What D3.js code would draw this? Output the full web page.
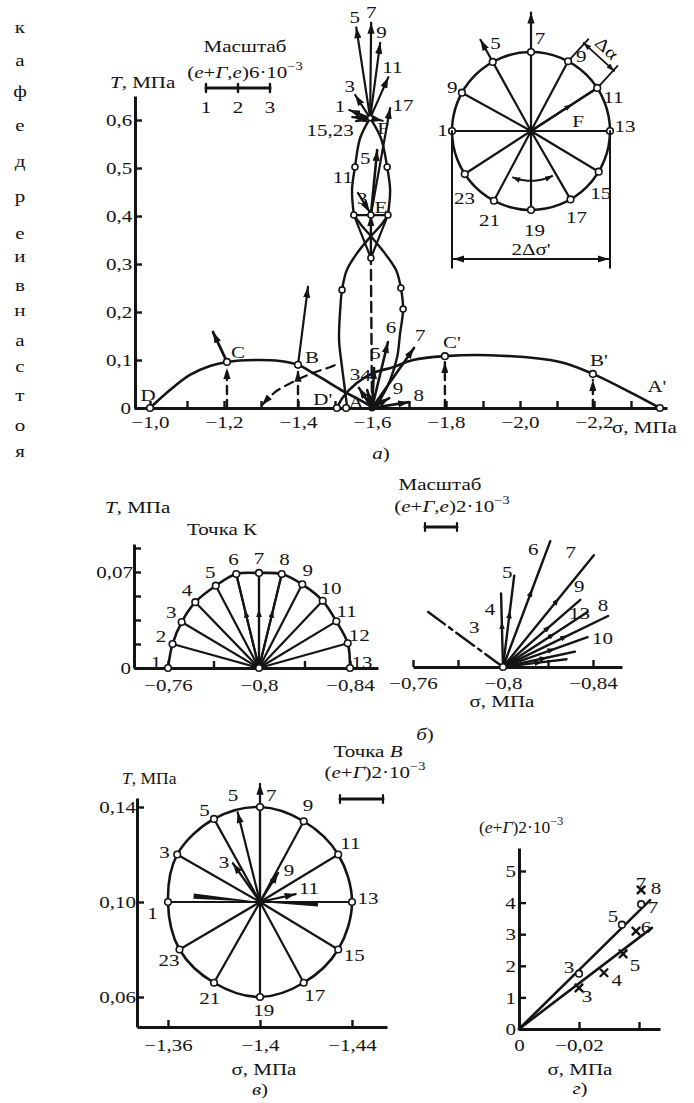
<!DOCTYPE html>
<html lang="ru">
<head>
<meta charset="utf-8">
<script src="https://cdn.jsdelivr.net/npm/d3@7"></script>
<style>
  body { margin: 0; background: #fff; }
  svg text { font-family: "Liberation Serif", "Times New Roman", serif; font-size: 17.5px; fill: #141414;
             transform-box: fill-box; transform-origin: center; transform: scaleX(1.2); }
  svg text[text-anchor="start"] { transform-origin: left center; }
  svg text[text-anchor="end"] { transform-origin: right center; }
  svg text.narrow { transform: scaleX(1.0); }
</style>
</head>
<body>
<svg id="fig" width="694" height="1103"></svg>
<script>
// ---------------- data ----------------
const sideText = ["к","а","ф","е","д","р","е","и","в","н","а","с","т","о","я"];

// panel а) : sigma / tau plane
const aSigTicks = [-1.0,-1.1,-1.2,-1.3,-1.4,-1.5,-1.6,-1.7,-1.8,-1.9,-2.0,-2.1,-2.2,-2.3];
const aSigLabels = [-1.0,-1.2,-1.4,-1.6,-1.8,-2.0,-2.2];
const aTauTicks = [0,0.1,0.2,0.3,0.4,0.5,0.6];
const curveDCB = [[-1.0,0],[-1.054,0.0375],[-1.108,0.069],[-1.162,0.0875],[-1.208,0.096],[-1.284,0.1],[-1.351,0.098],[-1.40,0.09],[-1.44,0.073],[-1.486,0.052],[-1.527,0.033],[-1.562,0.019],[-1.60,0.002]];
const curveABCD = [[-2.378,0],[-2.297,0.033],[-2.197,0.071],[-2.108,0.096],[-1.919,0.11],[-1.797,0.108],[-1.711,0.1],[-1.657,0.085],[-1.603,0.073],[-1.559,0.052],[-1.522,0.023],[-1.505,0]];
const curveDashed = [[-1.303,0.006],[-1.338,0.033],[-1.386,0.054],[-1.44,0.073],[-1.486,0.085],[-1.514,0.094]];
const lensUpperL = [[-1.595,0.604],[-1.568,0.5625],[-1.554,0.502],[-1.546,0.454],[-1.551,0.402]];
const lensUpperR = [[-1.595,0.604],[-1.624,0.5625],[-1.641,0.502],[-1.649,0.454],[-1.643,0.402]];
const lensCrossA = [[-1.551,0.402],[-1.573,0.379],[-1.597,0.358],[-1.632,0.325],[-1.665,0.2875],[-1.678,0.25],[-1.684,0.206],[-1.676,0.156],[-1.668,0.106],[-1.649,0.058],[-1.622,0.017],[-1.605,0]];
const lensCrossB = [[-1.643,0.402],[-1.622,0.379],[-1.597,0.358],[-1.562,0.325],[-1.532,0.2875],[-1.519,0.246],[-1.514,0.204],[-1.511,0.142],[-1.519,0.085],[-1.527,0.0375],[-1.532,0.006]];
const lensVee = [[-1.551,0.402],[-1.597,0.3125],[-1.643,0.402]];
const lensLevel = [[-1.551,0.402],[-1.643,0.402]];
const lensPoints = [[-1.554,0.502],[-1.641,0.502],[-1.551,0.402],[-1.597,0.402],[-1.643,0.402],[-1.597,0.3125],[-1.519,0.246],[-1.678,0.25],[-1.684,0.206]];
const aPtName = ["D","C","B","D'","A","C'","B'","A'"];
const aPtSig  = [-1.0,-1.208,-1.40,-1.505,-1.53,-1.797,-2.197,-2.378];
const aPtTau  = [0,0.096,0.09,0,0,0.108,0.071,0];
const pointF = [-1.595,0.604], pointE = [-1.597,0.402], pointO = [-1.6,0], pointM = [-1.597,0.3125];
const line17 = [[-1.597,0.402],[-1.649,0.625]];
const line5low = [[-1.597,0.402],[-1.614,0.5375]];
const line3low = [[-1.562,0.448],[-1.594,0.408]];
// strain vectors, angle in degrees, length in units of 2·10^-3
const fVecLab = ["5","7","9","11","3","1","","",""];
const fVecAng = [98.7,89.4,82.4,66,123,159,177,192,-12];
const fVecLen = [2.87,2.98,2.37,1.4,0.86,0.7,0.56,0.45,0.4];
const oVecLab = ["6","7","5","3","4","9","8"];
const oVecAng = [76.4,55,87,123,105,30,9];
const oVecLen = [2.12,2.29,1.25,0.75,0.58,0.62,1.17];
const bVec = {ang: 82.7, len: 2.46}, cVec = {ang: 115, len: 1.03};
// inset: stress circle at point F
const insetAng = [0,33,62,90,119,151,180,213,242,270,300,329];
const insetLab = ["13","11","9","7","5","9","1","23","21","19","17","15"];

// panel б) : point K
const kSig = [-0.76,-0.762,-0.766,-0.772,-0.781,-0.790,-0.80,-0.810,-0.819,-0.828,-0.834,-0.839,-0.84];
const kTau = [0,0.0175,0.0335,0.048,0.06,0.0685,0.0693,0.0685,0.061,0.049,0.034,0.018,0];
const kLab = ["1","2","3","4","5","6","7","8","9","10","11","12","13"];
const kSigTicks = [-0.76,-0.78,-0.8,-0.82,-0.84];
const kSigLabels = [-0.76,-0.8,-0.84];
const kTauTicks = [0,0.0175,0.035,0.0525,0.07,0.0875];
const kTauLabels = [0,0.07];
const kVecLab = ["3","4","5","6","7","9","13","8","10","",""];
const kVecAng = [143.7,91.5,83,69.4,50.9,41,33,25.9,19.4,12,7];
const kVecLen = [5.8,4.6,5.75,8.4,9.0,6.4,6.3,7.3,5.6,4.6,4.0];

// panel в) : point B
const vSig = [-1.360,-1.364,-1.380,-1.400,-1.419,-1.434,-1.440,-1.434,-1.419,-1.400,-1.380,-1.365];
const vTau = [0.100,0.120,0.135,0.140,0.134,0.120,0.100,0.080,0.066,0.060,0.066,0.080];
const vLab = ["1","3","5","7","9","11","13","15","17","19","21","23"];
const vSigTicks = [-1.36,-1.4,-1.44];
const vTauTicks = [0.06,0.10,0.14];
const vVecLab = ["7","5","3","9","11"];
const vVecAng = [90,104,125,58,12.5];
const vVecLen = [5.5,4.3,2.2,1.6,1.7];
const vWedgeAng = [175,-2];
const vWedgeLen = [3.1,2.7];

// panel г)
const gCircSig = [-0.02,-0.0343,-0.0407];
const gCircVal = [1.75,3.3,3.95];
const gCircLab = ["3","5","7"];
const gCrossSig = [-0.02,-0.0283,-0.0347,-0.039,-0.0407];
const gCrossVal = [1.3,1.78,2.38,3.1,4.4];
const gCrossLab = ["3","4","5","6","7"];
const gLineUpper = [[0,0],[-0.0437,4.08]];
const gLineLower = [[0,0],[-0.0443,3.2]];
const gSigTicks = [0,-0.02,-0.04];
const gSigLabels = [0,-0.02];
const gValTicks = [0,1,2,3,4,5];

// ---------------- drawing ----------------
const ink = "#141414";
const svg = d3.select("#fig");
const defs = svg.append("defs");
const loc = d3.formatLocale({decimal: ",", thousands: " ", grouping: [3], currency: ["", ""], minus: "\u2212"});
const f1 = loc.format(".1f"), f2 = loc.format(".2f"), fs = loc.format(".2~f");
const rad = d => d * Math.PI / 180;

function marker(id, len, wid) {
  defs.append("marker").attr("id", id)
    .attr("viewBox", `0 ${-wid} ${len} ${2 * wid}`)
    .attr("refX", len).attr("refY", 0)
    .attr("markerWidth", len).attr("markerHeight", 2 * wid)
    .attr("markerUnits", "userSpaceOnUse").attr("orient", "auto-start-reverse")
    .append("path").attr("d", `M0,${-wid}L${len},0L0,${wid}Z`).attr("fill", ink);
}
marker("ah", 11, 3.6);
marker("am", 8, 2.8);

const span = (s, a, b) => s.copy().domain([s.invert(a), s.invert(b)]).range([a, b]);

function axis(g, orient, scale, pos, ticks, labels, fmt, pad) {
  const ax = (orient === "bottom" ? d3.axisBottom(scale) : d3.axisLeft(scale))
    .tickValues(ticks).tickSizeOuter(0).tickSizeInner(-7).tickPadding(pad)
    .tickFormat(d => labels.some(v => Math.abs(v - d) < 1e-9) ? fmt(d) : "");
  const a = g.append("g")
    .attr("transform", orient === "bottom" ? `translate(0,${pos})` : `translate(${pos},0)`)
    .call(ax);
  a.attr("font-size", null).attr("font-family", null);
  a.select(".domain").attr("stroke", ink).attr("stroke-width", 3);
  a.selectAll(".tick line").attr("stroke", ink).attr("stroke-width", 2.4);
  return a;
}

function rich(g, x, y, parts, anchor = "middle") {
  const t = g.append("text").attr("x", x).attr("y", y).attr("text-anchor", anchor);
  parts.forEach(p => {
    const [s, st] = Array.isArray(p) ? p : [p, ""];
    const ts = t.append("tspan").text(s);
    if (st === "i") ts.attr("font-style", "italic");
    if (st === "sup") ts.attr("font-size", 12).attr("dy", -8);
  });
  return t;
}
const label = (g, x, y, s, anchor = "middle") =>
  g.append("text").attr("x", x).attr("y", y).attr("dy", "0.35em").attr("text-anchor", anchor).text(s);

function path(g, pts, w = 2.4, dash = null) {
  return g.append("path").attr("d", d3.line()(pts)).attr("fill", "none")
    .attr("stroke", ink).attr("stroke-width", w).attr("stroke-dasharray", dash)
    .attr("stroke-linecap", "round").attr("stroke-linejoin", "round");
}

// vector from (x0,y0), with head at tip or in the middle
function vec(g, x0, y0, ang, len, w = 2.2, mid = false) {
  const a = rad(ang);
  const tip = [x0 + len * Math.cos(a), y0 - len * Math.sin(a)];
  if (mid) {
    const m = [x0 + 0.62 * len * Math.cos(a), y0 - 0.62 * len * Math.sin(a)];
    path(g, [[x0, y0], m, tip], w).attr("marker-mid", "url(#am)");
  } else {
    path(g, [[x0, y0], tip], w).attr("marker-end", "url(#ah)");
  }
  return tip;
}

function ring(g, x, y, r = 3.3) {
  g.append("circle").attr("cx", x).attr("cy", y).attr("r", r)
    .attr("fill", "#fff").attr("stroke", ink).attr("stroke-width", 1.6);
}

// side column of letters
const gSide = svg.append("g");
const sideY = [33,66,97,131,167,202,239,262,291,316,346,372,401,431,457];
sideText.forEach((c, i) => gSide.append("text").attr("x", 20).attr("y", sideY[i]).attr("text-anchor", "middle").text(c));

// ===== panel а) =====
const gA = svg.append("g");
const xA = d3.scaleLinear().domain([-1.0, -2.2]).range([150, 594]);
const yA = d3.scaleLinear().domain([0, 0.6]).range([408, 120]);
const sA = d3.scaleLinear().domain([0, 1]).range([0, 32]);
const pA = d => [xA(d[0]), yA(d[1])];
const lineA = d3.line().x(d => xA(d[0])).y(d => yA(d[1])).curve(d3.curveCatmullRom.alpha(0.5));
const curveA = (pts, w = 2.6, dash = null) => gA.append("path").attr("d", lineA(pts)).attr("fill", "none")
  .attr("stroke", ink).attr("stroke-width", w).attr("stroke-dasharray", dash).attr("stroke-linecap", "round");

axis(gA, "bottom", span(xA, 134, 667), 408, aSigTicks, aSigLabels, f1, 8);
axis(gA, "left", span(yA, 408, 96), 135, aTauTicks, aTauTicks, d => d === 0 ? "0" : f1(d), 5);
rich(gA, 110, 88, [["T", "i"], ", МПа"], "start");
rich(gA, 612, 433, ["σ, МПа"], "start");
rich(gA, 381, 459, [["а", "i"], ")"]);

// scale bar
rich(gA, 245, 52, ["Масштаб"]);
rich(gA, 245, 78, ["(", ["e", "i"], "+", ["Г", "i"], ",", ["e", "i"], ")6·10", ["−3", "sup"]]);
path(gA, [[206, 88], [206 + sA(2), 88]], 3);
[0, 1, 2].forEach(k => {
  path(gA, [[206 + sA(k), 84], [206 + sA(k), 92]], 2.4);
  label(gA, 206 + sA(k), 107, String(k + 1));
});

// main curves
curveA(curveDCB);
curveA(curveABCD);
curveA(curveDashed, 2.2, "9,6").attr("marker-start", "url(#ah)");
[lensUpperL, lensUpperR, lensCrossA, lensCrossB].forEach(c => curveA(c, 2.4));
path(gA, lensVee.map(pA), 2.2);
path(gA, lensLevel.map(pA), 2.2);
path(gA, [pA(pointO), pA(pointM)], 2.4, "10,6");
path(gA, [pA(pointM), pA(pointE)], 2.4).attr("marker-end", "url(#ah)");
path(gA, line17.map(pA), 2.2).attr("marker-end", "url(#ah)");
path(gA, line5low.map(pA), 2.6).attr("marker-end", "url(#ah)");
path(gA, line3low.map(pA), 2.2).attr("marker-end", "url(#ah)");

// dashed verticals with arrows under C, B, C', B'
[1, 2, 5, 6].forEach(i => {
  path(gA, [[xA(aPtSig[i]), yA(0)], [xA(aPtSig[i]), yA(aPtTau[i]) + 6]], 2.4, "8,6")
    .attr("marker-end", "url(#ah)");
});

// strain vectors
const [fx, fy] = pA(pointF), [ox, oy] = pA(pointO);
fVecAng.forEach((a, i) => {
  const tip = vec(gA, fx, fy, a, sA(fVecLen[i]), 2.2);
  if (fVecLab[i]) label(gA, tip[0] + 10 * Math.cos(rad(a)), tip[1] - 10 * Math.sin(rad(a)) - 1, fVecLab[i]);
});
oVecAng.forEach((a, i) => {
  const tip = vec(gA, ox, oy, a, sA(oVecLen[i]), 2.6);
  label(gA, tip[0] + 9 * Math.cos(rad(a)) + 1, tip[1] - 9 * Math.sin(rad(a)) - 6, oVecLab[i]);
});
vec(gA, xA(aPtSig[2]), yA(aPtTau[2]), bVec.ang, sA(bVec.len), 2.2);
vec(gA, xA(aPtSig[1]), yA(aPtTau[1]), cVec.ang, sA(cVec.len), 2.8);

// point markers and names
const aNameShift = {"D": [-2, -13], "C": [11, -10], "B": [14, -8], "D'": [-14, -9], "A": [10, -6], "C'": [7, -14], "B'": [6, -14], "A'": [-3, -22]};
aPtName.forEach((n, i) => {
  const x = xA(aPtSig[i]), y = yA(aPtTau[i]);
  ring(gA, x, y);
  label(gA, x + aNameShift[n][0], y + aNameShift[n][1], n);
});
lensPoints.forEach(p => ring(gA, ...pA(p), 3));
ring(gA, fx, fy, 2.6);
gA.append("circle").attr("cx", ox).attr("cy", oy).attr("r", 3.5).attr("fill", ink);
label(gA, fx - 40, fy + 12, "15,23");
label(gA, fx + 13, fy + 10, "F");
label(gA, xA(pointE[0]) + 10, yA(pointE[1]) - 8, "E");
label(gA, xA(-1.554) - 12, yA(0.502) + 10, "11");
label(gA, fx - 5, fy + 40, "5");
label(gA, fx - 8, fy + 80, "3");
label(gA, xA(line17[1][0]) + 13, yA(line17[1][1]) - 3, "17");

// inset circle (point F)
const gI = svg.append("g");
const cI = [531, 131];
const rI = d3.scaleLinear().domain([0, 1]).range([0, 79]);
const polI = (a, r) => [cI[0] + rI(r) * Math.cos(rad(a)), cI[1] - rI(r) * Math.sin(rad(a))];
gI.append("circle").attr("cx", cI[0]).attr("cy", cI[1]).attr("r", rI(1))
  .attr("fill", "none").attr("stroke", ink).attr("stroke-width", 2.5);
insetAng.forEach(a => path(gI, [cI, polI(a, 1)], 2.2));
path(gI, [cI, polI(33, 0.62), polI(33, 1)], 2.2).attr("marker-mid", "url(#am)");
path(gI, [polI(90, 1), polI(90, 1.5)], 2.2).attr("marker-end", "url(#ah)");
path(gI, [polI(119, 1), polI(119, 1.32)], 2.2).attr("marker-end", "url(#ah)");
gI.append("circle").attr("cx", cI[0]).attr("cy", cI[1]).attr("r", 4).attr("fill", ink);
const insetShift = [3, -10.5, -6, -5.5, -7, 0, -1, 12, 3, 2, -2, -10.5];
const insetR = [1.19, 1.13, 1.14, 1.18, 1.2, 1.14, 1.12, 1.19, 1.24, 1.25, 1.23, 1.18];
insetAng.forEach((a, i) => {
  const p = polI(a, 1);
  ring(gI, p[0], p[1]);
  const q = polI(a + insetShift[i], insetR[i]);
  label(gI, q[0], q[1], insetLab[i]);
});
label(gI, cI[0] + 47, cI[1] - 10, "F");
// 2Δσ' dimension
[180, 0].forEach(a => {
  const p = polI(a, 1);
  path(gI, [p, [p[0], cI[1] + rI(1.73)]], 2);
});
path(gI, [polI(180, 1).map((v, k) => k ? cI[1] + rI(1.62) : v + 1), polI(0, 1).map((v, k) => k ? cI[1] + rI(1.62) : v - 1)], 2)
  .attr("marker-start", "url(#ah)").attr("marker-end", "url(#ah)");
rich(gI, cI[0], cI[1] + rI(1.57), ["2Δσ'"]);
// angle arc
const arcPts = d3.range(-112, -63, 4).map(a => polI(a, 0.63));
gI.append("path").attr("d", d3.line().curve(d3.curveCatmullRom)(arcPts)).attr("fill", "none")
  .attr("stroke", ink).attr("stroke-width", 2).attr("marker-start", "url(#am)").attr("marker-end", "url(#am)");
// Δα dimension
{
  const p9 = polI(62, 1), p11 = polI(33, 1);
  const L = Math.hypot(p11[0] - p9[0], p11[1] - p9[1]);
  const u = [(p11[0] - p9[0]) / L, (p11[1] - p9[1]) / L], n = [u[1], -u[0]];
  const off = (p, d, e = 0) => [p[0] + n[0] * d + u[0] * e, p[1] + n[1] * d + u[1] * e];
  path(gI, [off(p9, 4), off(p9, 30)], 1.8);
  path(gI, [off(p11, 4), off(p11, 30)], 1.8);
  path(gI, [off(p9, 24, -1), off(p11, 24, 1)], 1.8).attr("marker-start", "url(#am)").attr("marker-end", "url(#am)");
  const mid = off([(p9[0] + p11[0]) / 2, (p9[1] + p11[1]) / 2], 36);
  gI.append("g").attr("transform", `rotate(${Math.atan2(u[1], u[0]) * 180 / Math.PI},${mid[0]},${mid[1]})`)
    .append("text").attr("x", mid[0]).attr("y", mid[1]).attr("dy", "0.35em").attr("text-anchor", "middle").text("Δα");
}

// ===== panel б) left : point K =====
const gK = svg.append("g");
const xK = d3.scaleLinear().domain([-0.76, -0.84]).range([168, 350]);
const yK = d3.scaleLinear().domain([0, 0.07]).range([668, 572]);
axis(gK, "bottom", span(xK, 134, 378), 668, kSigTicks, kSigLabels, fs, 11);
axis(gK, "left", span(yK, 668, 544), 134, kTauTicks, kTauLabels, fs, 4);
rich(gK, 105, 513, [["T", "i"], ", МПа"], "start");
rich(gK, 222, 535, ["Точка К"]);
const kc = [xK(-0.8), yK(0)];
const kPts = kSig.map((s, i) => [xK(s), yK(kTau[i])]);
kPts.forEach(p => path(gK, [kc, p], 2.2));
[5, 6, 7].forEach(i => path(gK, [kc, [kc[0] + (kPts[i][0] - kc[0]) * 0.62, kc[1] + (kPts[i][1] - kc[1]) * 0.62], kPts[i]], 2.2)
  .attr("marker-mid", "url(#am)"));
gK.append("path").attr("d", d3.line().curve(d3.curveCatmullRom)(kPts)).attr("fill", "none")
  .attr("stroke", ink).attr("stroke-width", 2.6);
kPts.forEach((p, i) => {
  ring(gK, p[0], p[1]);
  const a = Math.atan2(kc[1] - p[1], p[0] - kc[0]);
  label(gK, p[0] + 12 * Math.cos(a), p[1] - (9 * Math.sin(a) + 6), kLab[i]);
});
ring(gK, kc[0], kc[1]);

// ===== panel б) right : strain vectors =====
const gKr = svg.append("g");
const xKr = d3.scaleLinear().domain([-0.76, -0.84]).range([413, 593]);
const sK = d3.scaleLinear().domain([0, 1]).range([0, 16]);
axis(gKr, "bottom", span(xKr, 413, 622), 667, kSigTicks, kSigLabels, fs, 10);
rich(gKr, 502, 707, ["σ, МПа"]);
rich(gKr, 425, 740, [["б", "i"], ")"]);
rich(gKr, 440, 490, ["Масштаб"]);
rich(gKr, 452, 512, ["(", ["e", "i"], "+", ["Г", "i"], ",", ["e", "i"], ")2·10", ["−3", "sup"]]);
path(gKr, [[425, 527], [425 + sK(2), 527]], 3);
path(gKr, [[425, 523], [425, 531]], 2.2);
path(gKr, [[425 + sK(2), 523], [425 + sK(2), 531]], 2.2);
const ko = [xKr(-0.8), 667];
const kLabShift = {"3": [46, 15], "4": [-11, 15], "5": [-7, -4], "6": [-17, 8], "7": [-23, -3], "9": [-1, -14], "13": [-8, 1], "8": [-5, -11], "10": [15, 1]};
kVecAng.forEach((a, i) => {
  const len = sK(kVecLen[i]);
  let tip;
  if (kVecLab[i] === "3") {
    tip = [ko[0] + len * Math.cos(rad(a)), ko[1] - len * Math.sin(rad(a))];
    path(gKr, [ko, tip], 2.4, "22,5,4,5");
  } else {
    tip = vec(gKr, ko[0], ko[1], a, len, 2.4, true);
  }
  if (kVecLab[i]) label(gKr, tip[0] + kLabShift[kVecLab[i]][0], tip[1] + kLabShift[kVecLab[i]][1], kVecLab[i]);
});
ring(gKr, ko[0], ko[1]);

// ===== panel в) : point B =====
const gV = svg.append("g");
const xV = d3.scaleLinear().domain([-1.36, -1.44]).range([168, 352]);
const yV = d3.scaleLinear().domain([0.06, 0.14]).range([997, 807]);
const sV = d3.scaleLinear().domain([0, 1]).range([0, 21.5]);
axis(gV, "bottom", span(xV, 137, 387), 1027, vSigTicks, vSigTicks, fs, 12);
axis(gV, "left", span(yV, 1027, 798), 137, vTauTicks, vTauTicks, f2, 4);
rich(gV, 122, 784, [["T", "i"], ", МПа"], "start").attr("class", "narrow");
rich(gV, 264, 1075, ["σ, МПа"]);
rich(gV, 260, 1095, [["в", "i"], ")"]);
rich(gV, 368, 757, ["Точка ", ["B", "i"]]);
rich(gV, 375, 778, ["(", ["e", "i"], "+", ["Г", "i"], ")2·10", ["−3", "sup"]]);
path(gV, [[340, 799], [340 + sV(2), 799]], 3);
path(gV, [[340, 795], [340, 803]], 2.2);
path(gV, [[340 + sV(2), 795], [340 + sV(2), 803]], 2.2);
const vc = [xV(-1.4), yV(0.1)];
const vPts = vSig.map((s, i) => [xV(s), yV(vTau[i])]);
vPts.forEach(p => path(gV, [vc, p], 2.2));
gV.append("path").attr("d", d3.line().curve(d3.curveCatmullRomClosed)(vPts)).attr("fill", "none")
  .attr("stroke", ink).attr("stroke-width", 2.6);
vVecAng.forEach((a, i) => vec(gV, vc[0], vc[1], a, sV(vVecLen[i]), 2.2));
vWedgeAng.forEach((a, i) => {
  const len = sV(vWedgeLen[i]), t = [vc[0] + len * Math.cos(rad(a)), vc[1] - len * Math.sin(rad(a))];
  const nx = Math.sin(rad(a)) * 2.6, ny = Math.cos(rad(a)) * 2.6;
  gV.append("path").attr("d", `M${vc[0]},${vc[1]}L${t[0] + nx},${t[1] + ny}L${t[0] - nx},${t[1] - ny}Z`).attr("fill", ink);
});
gV.append("circle").attr("cx", vc[0]).attr("cy", vc[1]).attr("r", 3.5).attr("fill", ink);
vPts.forEach((p, i) => {
  ring(gV, p[0], p[1]);
  const a0 = Math.atan2(vc[1] - p[1], p[0] - vc[0]) * 180 / Math.PI;
  const a = rad(a0 + (vLab[i] === "7" ? -6 : vLab[i] === "1" ? 6 : 2));
  label(gV, vc[0] + 108 * Math.cos(a), vc[1] - 108 * Math.sin(a), vLab[i]);
});
label(gV, 233, 795, "5");
label(gV, 224, 862, "3");
label(gV, 289, 870, "9");
label(gV, 309, 888, "11");

// ===== panel г) =====
const gG = svg.append("g");
const xG = d3.scaleLinear().domain([0, -0.04]).range([519, 639]);
const yG = d3.scaleLinear().domain([0, 5]).range([1029, 871]);
const pG = d => [xG(d[0]), yG(d[1])];
axis(gG, "bottom", span(xG, 519, 660), 1029, gSigTicks, gSigLabels, fs, 10);
axis(gG, "left", span(yG, 1029, 848), 519, gValTicks, gValTicks, d3.format("d"), 4);
rich(gG, 479, 833, ["(", ["e", "i"], "+", ["Г", "i"], ")2·10", ["−3", "sup"]], "start").attr("class", "narrow");
rich(gG, 580, 1075, ["σ, МПа"]);
rich(gG, 580, 1094, [["г", "i"], ")"]);
path(gG, gLineUpper.map(pG), 2.6);
path(gG, gLineLower.map(pG), 2.6);
const gCircShift = [[-10, -7], [-9, -9], [12, 3]];
gCircSig.forEach((s, i) => {
  const [x, y] = pG([s, gCircVal[i]]);
  ring(gG, x, y);
  label(gG, x + gCircShift[i][0], y + gCircShift[i][1], gCircLab[i]);
});
const gCrossShift = [[8, 8], [13, 7], [12, 11], [10, -4], [0, -7]];
gCrossSig.forEach((s, i) => {
  const [x, y] = pG([s, gCrossVal[i]]);
  path(gG, [[x - 3.5, y - 3.5], [x + 3.5, y + 3.5]], 2.4);
  path(gG, [[x - 3.5, y + 3.5], [x + 3.5, y - 3.5]], 2.4);
  label(gG, x + gCrossShift[i][0], y + gCrossShift[i][1], gCrossLab[i]);
});
{
  const [x, y] = pG([gCrossSig[4], gCrossVal[4]]);
  label(gG, x + 15, y - 2, "8");
}
</script>
</body>
</html>
